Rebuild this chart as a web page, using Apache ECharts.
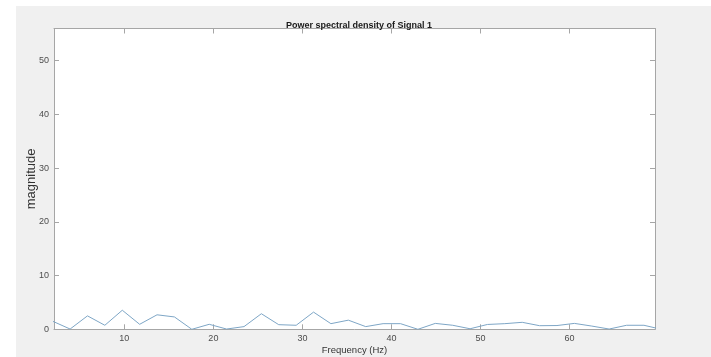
<!DOCTYPE html>
<html>
<head>
<meta charset="utf-8">
<script src="https://cdn.jsdelivr.net/npm/echarts@6/dist/echarts.min.js"></script>
<style>
  html, body { margin: 0; padding: 0; background: #ffffff; }
  #bg { position: absolute; left: 16px; top: 6px; width: 695px; height: 351px; background: #f0f0f0; }
  #chart { position: absolute; left: 0; top: 0; width: 711px; height: 357px; }
</style>
</head>
<body>
<div id="bg"></div>
<div id="chart"></div>
<script>
// frequency bins (Hz) and PSD magnitude
const freqs = [1.95, 3.91, 5.86, 7.81, 9.77, 11.72, 13.67, 15.63, 17.58, 19.53,
  21.48, 23.44, 25.39, 27.34, 29.30, 31.25, 33.20, 35.16, 37.11, 39.06,
  41.02, 42.97, 44.92, 46.88, 48.83, 50.78, 52.73, 54.69, 56.64, 58.59,
  60.55, 62.50, 64.45, 66.41, 68.36, 70.31];
const magnitude = [1.5, 0.05, 2.5, 0.75, 3.55, 0.93, 2.7, 2.3, 0.0, 0.93,
  0.05, 0.5, 2.9, 0.86, 0.75, 3.2, 1.05, 1.7, 0.5, 1.05,
  1.05, 0.0, 1.1, 0.75, 0.1, 0.9, 1.05, 1.3, 0.67, 0.7,
  1.1, 0.6, 0.05, 0.75, 0.75, 0.0];
const xTicks = [10, 20, 30, 40, 50, 60];

const chart = echarts.init(document.getElementById('chart'), null, { renderer: 'canvas' });

const axisLineStyle = { color: '#a6a6a6', width: 1 };
const labelStyle = { color: '#4d4d4d', fontSize: 9, fontFamily: 'Liberation Sans, Arial, sans-serif' };

const option = {
  animation: false,
  backgroundColor: 'transparent',
  title: {
    text: 'Power spectral density of Signal 1',
    left: 354,
    textAlign: 'center',
    top: 16,
    textStyle: { fontSize: 9, fontWeight: 'bold', color: '#1a1a1a', fontFamily: 'Liberation Sans, Arial, sans-serif' }
  },
  grid: {
    left: 54, right: 56, top: 28.5, bottom: 27.7,
    outerBoundsMode: 'none', containLabel: false,
    backgroundColor: '#ffffff', show: true, borderWidth: 0
  },
  xAxis: [
    {
      type: 'value', min: 2.1, max: 69.6, position: 'bottom',
      name: 'Frequency (Hz)', nameLocation: 'middle', nameGap: 16, nameMoveOverlap: false,
      nameTextStyle: { fontSize: 9.5, color: '#333', fontFamily: 'Liberation Sans, Arial, sans-serif' },
      axisLine: { show: true, onZero: false, lineStyle: axisLineStyle },
      axisTick: { show: true, inside: true, length: 5, customValues: xTicks, lineStyle: axisLineStyle },
      axisLabel: { customValues: xTicks, margin: 5, ...labelStyle },
      splitLine: { show: false }
    },
    {
      type: 'value', min: 2.1, max: 69.6, position: 'top',
      axisLine: { show: true, onZero: false, lineStyle: axisLineStyle },
      axisTick: { show: true, inside: true, length: 5, customValues: xTicks, lineStyle: axisLineStyle },
      axisLabel: { show: false },
      splitLine: { show: false }
    }
  ],
  yAxis: [
    {
      type: 'value', min: 0, max: 56, interval: 10, position: 'left',
      name: 'magnitude', nameLocation: 'middle', nameGap: 16, nameRotate: 90, nameMoveOverlap: false,
      nameTextStyle: { fontSize: 13, color: '#333', fontFamily: 'Liberation Sans, Arial, sans-serif' },
      axisLine: { show: true, onZero: false, lineStyle: axisLineStyle },
      axisTick: { show: true, inside: true, length: 5, lineStyle: axisLineStyle },
      axisLabel: { margin: 5, showMaxLabel: false, ...labelStyle },
      splitLine: { show: false }
    },
    {
      type: 'value', min: 0, max: 56, interval: 10, position: 'right',
      axisLine: { show: true, onZero: false, lineStyle: axisLineStyle },
      axisTick: { show: true, inside: true, length: 5, lineStyle: axisLineStyle },
      axisLabel: { show: false },
      splitLine: { show: false }
    }
  ],
  series: [
    {
      type: 'line',
      data: freqs.map((f, i) => [f, magnitude[i]]),
      showSymbol: false,
      clip: true,
      lineStyle: { color: '#7ea6c6', width: 1 }
    }
  ]
};

chart.setOption(option);
</script>
</body>
</html>
